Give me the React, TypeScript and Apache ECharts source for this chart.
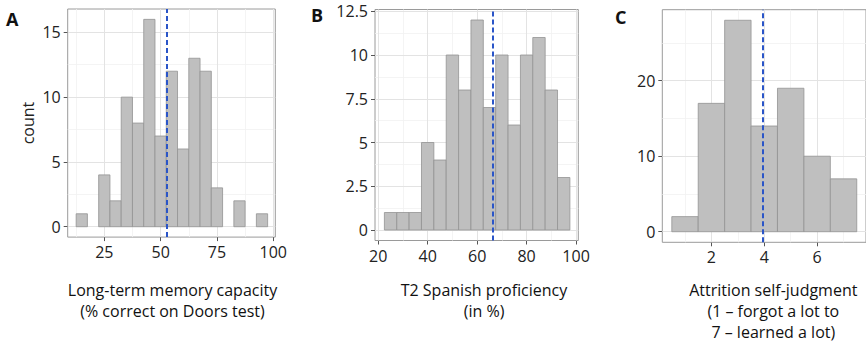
import React, { useEffect, useRef } from "react";
import * as echarts from "echarts";

// ---- data ----
const memoryBinCenters = [15, 20, 25, 30, 35, 40, 45, 50, 55, 60, 65, 70, 75, 80, 85, 90, 95];
const memoryCounts = [1, 0, 4, 2, 10, 8, 16, 7, 12, 6, 13, 12, 3, 0, 2, 0, 1];
const memoryBinWidth = 5;
const memoryMean = 52.5;
const memoryXTicks = [25, 50, 75, 100];
const memoryXMinor = [12.5, 37.5, 62.5, 87.5];
const memoryYTicks = [0, 5, 10, 15];
const memoryYMinor = [2.5, 7.5, 12.5];

const spanishBinCenters = [25, 30, 35, 40, 45, 50, 55, 60, 65, 70, 75, 80, 85, 90, 95];
const spanishCounts = [1, 1, 1, 5, 4, 10, 8, 12, 7, 10, 6, 10, 11, 8, 3];
const spanishBinWidth = 5;
const spanishMean = 66.5;
const spanishXTicks = [20, 40, 60, 80, 100];
const spanishXMinor = [30, 50, 70, 90];
const spanishYTicks = [0, 2.5, 5, 7.5, 10, 12.5];
const spanishYMinor = [1.25, 3.75, 6.25, 8.75, 11.25];

const attritionBinCenters = [1, 2, 3, 4, 5, 6, 7];
const attritionCounts = [2, 17, 28, 14, 19, 10, 7];
const attritionBinWidth = 1;
const attritionMean = 3.93;
const attritionXTicks = [2, 4, 6];
const attritionXMinor = [1, 3, 5, 7];
const attritionYTicks = [0, 10, 20];
const attritionYMinor = [5, 15, 25];

const FONT = "'Open Sans', 'DejaVu Sans', sans-serif";

type Panel = {
  centers: number[];
  counts: number[];
  width: number;
  mean: number;
  xTicks: number[];
  xMinor: number[];
  yTicks: number[];
  yMinor: number[];
  xRange: [number, number];
  yRange: [number, number];
  grid: { left: number; top: number; width: number; height: number };
  yName: string;
};

const panels: Panel[] = [
  {
    centers: memoryBinCenters, counts: memoryCounts, width: memoryBinWidth, mean: memoryMean,
    xTicks: memoryXTicks, xMinor: memoryXMinor, yTicks: memoryYTicks, yMinor: memoryYMinor,
    xRange: [8.75, 100.9], yRange: [-0.8, 16.8],
    grid: { left: 67.7, top: 9, width: 207.6, height: 228.1 }, yName: "count",
  },
  {
    centers: spanishBinCenters, counts: spanishCounts, width: spanishBinWidth, mean: spanishMean,
    xTicks: spanishXTicks, xMinor: spanishXMinor, yTicks: spanishYTicks, yMinor: spanishYMinor,
    xRange: [18.7, 100.9], yRange: [-0.6, 12.6],
    grid: { left: 375, top: 9.5, width: 203.3, height: 231 }, yName: "",
  },
  {
    centers: attritionBinCenters, counts: attritionCounts, width: attritionBinWidth, mean: attritionMean,
    xTicks: attritionXTicks, xMinor: attritionXMinor, yTicks: attritionYTicks, yMinor: attritionYMinor,
    xRange: [0.14, 7.85], yRange: [-1.4, 29.4],
    grid: { left: 662.3, top: 9.7, width: 208.7, height: 232.6 }, yName: "",
  },
];

function buildOption() {
  const grid: any[] = [];
  const xAxis: any[] = [];
  const yAxis: any[] = [];
  const series: any[] = [];

  panels.forEach((p, i) => {
    grid.push({
      ...p.grid,
      show: true,
      backgroundColor: "#ffffff",
      borderColor: "#9a9a9a",
      borderWidth: 1,
      containLabel: false,
    });
    xAxis.push({
      type: "value",
      gridIndex: i,
      min: p.xRange[0],
      max: p.xRange[1],
      axisLine: { show: false, onZero: false },
      axisTick: { show: true, length: 4, customValues: p.xTicks, lineStyle: { color: "#555" } },
      axisLabel: {
        show: true, customValues: p.xTicks, margin: 7,
        fontFamily: FONT, fontSize: 16, color: "#222",
      },
      splitLine: { show: false },
    });
    yAxis.push({
      type: "value",
      gridIndex: i,
      min: p.yRange[0],
      max: p.yRange[1],
      name: p.yName,
      nameLocation: "middle",
      nameGap: 32,
      nameTextStyle: { fontFamily: FONT, fontSize: 16, color: "#222" },
      axisLine: { show: false, onZero: false },
      axisTick: { show: true, length: 4, customValues: p.yTicks, lineStyle: { color: "#555" } },
      axisLabel: {
        show: true, customValues: p.yTicks, margin: 7,
        fontFamily: FONT, fontSize: 16, color: "#222",
      },
      splitLine: { show: false },
    });

    const rows = p.centers.map((c, k) => [c - p.width / 2, c + p.width / 2, p.counts[k]]);

    const minorLines = [
      ...p.xMinor.map((v) => ({ xAxis: v, lineStyle: { color: "#f1f1f1", width: 0.8, type: "solid" } })),
      ...p.yMinor.map((v) => ({ yAxis: v, lineStyle: { color: "#f1f1f1", width: 0.8, type: "solid" } })),
    ];
    const majorLines = [
      ...p.xTicks.map((v) => ({ xAxis: v, lineStyle: { color: "#e3e3e3", width: 1, type: "solid" } })),
      ...p.yTicks.map((v) => ({ yAxis: v, lineStyle: { color: "#e3e3e3", width: 1, type: "solid" } })),
    ];

    // grid lines (behind bars)
    series.push({
      type: "line",
      xAxisIndex: i,
      yAxisIndex: i,
      data: [],
      silent: true,
      markLine: {
        z: 1,
        silent: true,
        symbol: "none",
        label: { show: false },
        data: [...minorLines, ...majorLines],
      },
    });

    // histogram bars
    series.push({
      type: "custom",
      xAxisIndex: i,
      yAxisIndex: i,
      z: 3,
      data: rows,
      encode: { x: [0, 1], y: 2 },
      renderItem: (params: any, api: any) => {
        const x0 = api.value(0);
        const x1 = api.value(1);
        const c = api.value(2);
        if (!c) return null;
        const pTop = api.coord([x0, c]);
        const pBot = api.coord([x1, 0]);
        return {
          type: "rect",
          shape: { x: pTop[0], y: pTop[1], width: pBot[0] - pTop[0], height: pBot[1] - pTop[1] },
          style: { fill: "#bfbfbf", stroke: "#939393", lineWidth: 0.8 },
        };
      },
    });

    // mean (dashed blue line)
    series.push({
      type: "line",
      xAxisIndex: i,
      yAxisIndex: i,
      data: [],
      silent: true,
      markLine: {
        z: 6,
        silent: true,
        symbol: "none",
        label: { show: false },
        data: [{ xAxis: p.mean }],
        lineStyle: { color: "#2a55c8", width: 2, type: [5, 3] },
      },
    });
  });

  const textStyle = (text: string) => ({
    text,
    fill: "#111",
    font: `16px ${FONT}`,
    align: "center",
    verticalAlign: "top",
    lineHeight: 21,
  });

  const graphic = [
    { type: "text", left: 6, top: 10, style: { text: "A", fill: "#111", font: `bold 18px ${FONT}` } },
    { type: "text", left: 311, top: 6, style: { text: "B", fill: "#111", font: `bold 18px ${FONT}` } },
    { type: "text", left: 615, top: 8, style: { text: "C", fill: "#111", font: `bold 18px ${FONT}` } },
    { type: "text", x: 172.5, y: 279.5, style: textStyle("Long-term memory capacity\n(% correct on Doors test)") },
    { type: "text", x: 484, y: 279.5, style: textStyle("T2 Spanish proficiency\n(in %)") },
    { type: "text", x: 773.3, y: 279.5, style: textStyle("Attrition self-judgment\n(1 \u2013 forgot a lot to\n7 \u2013 learned a lot)") },
  ];

  return {
    animation: false,
    backgroundColor: "#ffffff",
    grid,
    xAxis,
    yAxis,
    series,
    graphic,
  };
}

export default function App() {
  const ref = useRef<HTMLDivElement>(null);
  useEffect(() => {
    document.body.style.margin = "0";
    if (!ref.current) return;
    const chart = echarts.init(ref.current, undefined, { renderer: "svg" });
    chart.setOption(buildOption() as any);
    return () => chart.dispose();
  }, []);
  return (
    <div
      ref={ref}
      style={{ position: "absolute", left: 0, top: 0, width: 866, height: 343, overflow: "hidden" }}
    />
  );
}
